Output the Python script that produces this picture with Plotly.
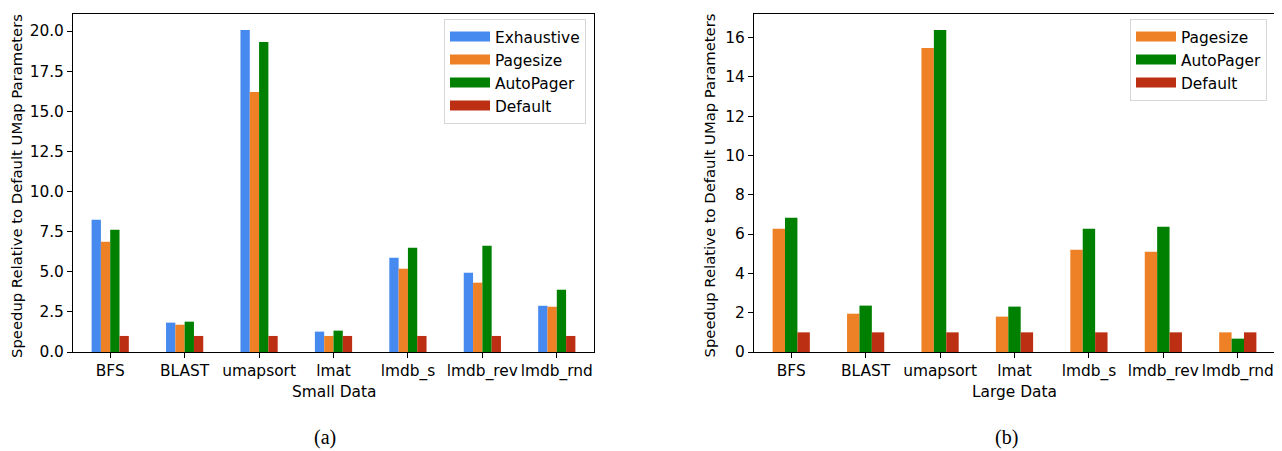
import plotly.graph_objects as go

categories = ["BFS", "BLAST", "umapsort", "lmat", "lmdb_s", "lmdb_rev", "lmdb_rnd"]

small_exhaustive = [8.24, 1.83, 20.06, 1.27, 5.87, 4.94, 2.88]
small_pagesize = [6.87, 1.70, 16.20, 1.00, 5.19, 4.32, 2.82]
small_autopager = [7.61, 1.89, 19.32, 1.33, 6.49, 6.62, 3.88]
small_default = [1.0, 1.0, 1.0, 1.0, 1.0, 1.0, 1.0]

large_pagesize = [6.27, 1.95, 15.47, 1.80, 5.20, 5.10, 1.00]
large_autopager = [6.83, 2.36, 16.39, 2.31, 6.27, 6.37, 0.68]
large_default = [1.0, 1.0, 1.0, 1.0, 1.0, 1.0, 1.0]

small_ticks = [0, 2.5, 5, 7.5, 10, 12.5, 15, 17.5, 20]
large_ticks = [0, 2, 4, 6, 8, 10, 12, 14, 16]

C_EXH = "#4689EF"
C_PAGE = "#EE8125"
C_AUTO = "#008000"
C_DEF = "#BD2F13"

FS = 15.4
FS_YT = 14.8
# the page body adds an 8px offset; figure coordinates = screen coordinates - 8
OFF = 8
W, H = 1282 - OFF, 451 - OFF
L, R, T, B = 73 - OFF, W - (1275 - OFF), 14 - OFF, H - (352 - OFF)
PW = W - L - R
PH = H - T - B


def px_x(x):
    return (x - OFF - L) / PW


def px_y(y):
    return (H - B - (y - OFF)) / PH


fig = go.Figure()

left_series = [("Exhaustive", small_exhaustive, C_EXH), ("Pagesize", small_pagesize, C_PAGE),
               ("AutoPager", small_autopager, C_AUTO), ("Default", small_default, C_DEF)]
right_series = [("Pagesize", large_pagesize, C_PAGE), ("AutoPager", large_autopager, C_AUTO),
                ("Default", large_default, C_DEF)]

for name, vals, col in left_series:
    fig.add_trace(go.Bar(x=categories, y=vals, name=name, marker=dict(color=col, line=dict(width=0)),
                         xaxis="x", yaxis="y", offsetgroup="L" + name, showlegend=False))
for name, vals, col in right_series:
    fig.add_trace(go.Bar(x=categories, y=vals, name=name, marker=dict(color=col, line=dict(width=0)),
                         xaxis="x2", yaxis="y2", offsetgroup="R" + name, showlegend=False))

# legend entries (wide swatches like the reference)
for name, vals, col in left_series:
    fig.add_trace(go.Scatter(x=[None], y=[None], mode="lines", name=name, line=dict(color=col, width=10),
                             xaxis="x", yaxis="y", legend="legend", legendgroup="L" + name))
for name, vals, col in right_series:
    fig.add_trace(go.Scatter(x=[None], y=[None], mode="lines", name=name, line=dict(color=col, width=10),
                             xaxis="x2", yaxis="y2", legend="legend2", legendgroup="R" + name))

axis_common = dict(showline=True, linecolor="black", linewidth=1, mirror=True, ticks="outside",
                   ticklen=5, tickwidth=1, tickcolor="black", showgrid=False, zeroline=False,
                   tickfont=dict(family="DejaVu Sans", size=FS, color="black"))

x1_dom = [0, px_x(594)]
x2_dom = [px_x(754), 1]

legend_common = dict(xanchor="right", yanchor="top",
                     bgcolor="rgba(255,255,255,0.8)", bordercolor="#d6d6d6", borderwidth=1,
                     font=dict(family="DejaVu Sans", size=FS, color="black"), tracegroupgap=0,
                     itemwidth=40)

fig.update_layout(
    width=W, height=H,
    margin=dict(l=L, r=R, t=T, b=B, autoexpand=False),
    paper_bgcolor="white", plot_bgcolor="white",
    barmode="group", bargap=0.5, bargroupgap=0,
    font=dict(family="DejaVu Sans", size=FS, color="black"),
    xaxis=dict(domain=x1_dom, anchor="y", type="category", range=[-0.5, 6.5], **axis_common),
    yaxis=dict(domain=[0, 1], anchor="x", range=[0, 21.06], tickvals=small_ticks,
               tickformat=".1f", **axis_common),
    xaxis2=dict(domain=x2_dom, anchor="y2", type="category", range=[-0.5, 6.5], **axis_common),
    yaxis2=dict(domain=[0, 1], anchor="x2", range=[0, 17.2], tickvals=large_ticks,
                tickformat="d", **axis_common),
    legend=dict(x=px_x(586), y=px_y(19), **legend_common),
    legend2=dict(x=px_x(1267), y=px_y(19), **legend_common),
    showlegend=True,
)

ylabel = "Speedup Relative to Default UMap Parameters"
annos = [
    dict(text=ylabel, x=px_x(17), y=px_y(186), textangle=-90, font=dict(size=FS_YT)),
    dict(text=ylabel, x=px_x(709.5), y=px_y(186), textangle=-90, font=dict(size=FS_YT)),
    dict(text="Small Data", x=px_x(333.5), y=px_y(392), font=dict(size=FS)),
    dict(text="Large Data", x=px_x(1014.5), y=px_y(392), font=dict(size=FS)),
    dict(text="(a)", x=px_x(325), y=px_y(437), font=dict(family="Liberation Serif", size=20)),
    dict(text="(b)", x=px_x(1006), y=px_y(437), font=dict(family="Liberation Serif", size=20)),
]
for a in annos:
    a.update(xref="paper", yref="paper", showarrow=False, xanchor="center", yanchor="middle")
    fig.add_annotation(**a)

fig.write_html("out.html")
